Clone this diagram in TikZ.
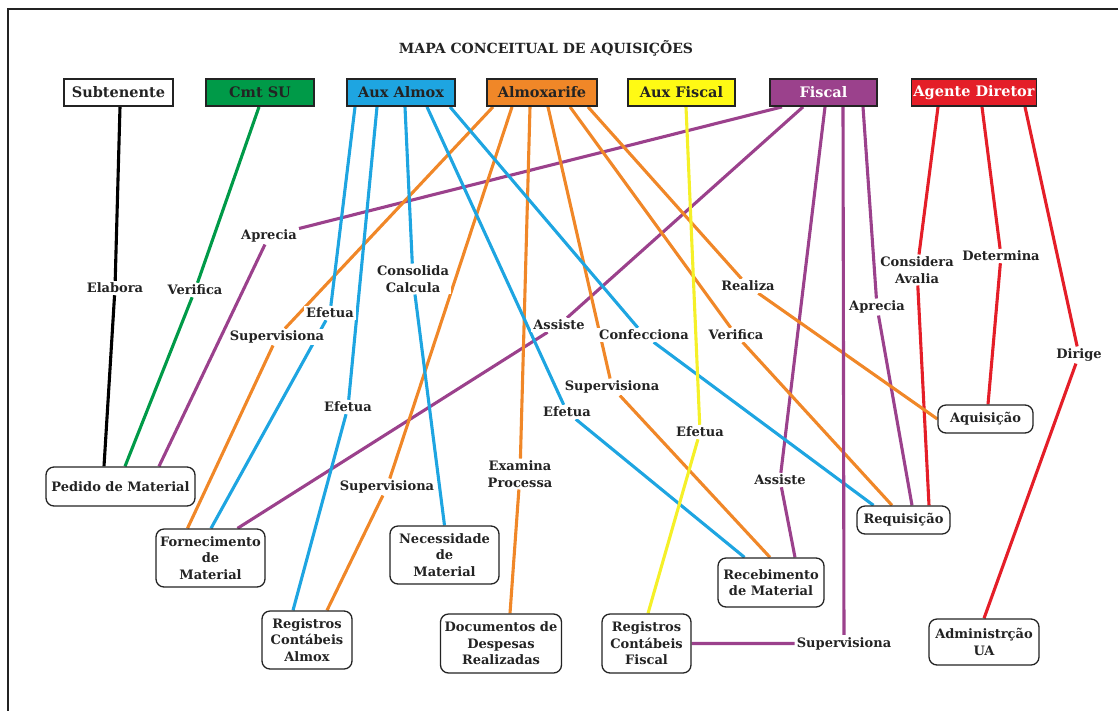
\documentclass[tikz,border=0pt]{standalone}
\usepackage{fontspec}
\setmainfont{DejaVu Serif}
\usetikzlibrary{calc,backgrounds}
\definecolor{cgreen}{RGB}{0,154,72}
\definecolor{ccyan}{RGB}{30,165,225}
\definecolor{corange}{RGB}{240,135,40}
\definecolor{cyellowbox}{RGB}{255,250,20}
\definecolor{cyellow}{RGB}{245,240,40}
\definecolor{cpurple}{RGB}{155,65,140}
\definecolor{cred}{RGB}{228,30,40}
\definecolor{ctext}{RGB}{35,35,35}
\begin{document}
\begin{tikzpicture}[x=1pt,y=-1pt,
  topbox/.style={draw=ctext, line width=1.8pt, minimum height=27pt, inner sep=2pt, font=\fontsize{14.5}{17}\selectfont\bfseries, text=ctext},
  box/.style={draw=ctext, line width=1.3pt, rounded corners=8pt, fill=white, inner xsep=3pt, inner ysep=3pt, align=center, font=\fontsize{13}{16.5}\selectfont\bfseries, text=ctext},
  lbl/.style={inner sep=2pt, fill=white, align=center, font=\fontsize{13}{16.5}\selectfont\bfseries, text=ctext},
  con/.style={line width=3.1pt},
]
\useasboundingbox (0,0) rectangle (1118,710);
\draw[line width=2.6pt, ctext] (8,712) -- (8,9) -- (1120,9);

\node[font=\fontsize{14}{16}\selectfont\bfseries, text=ctext] (title) at (546,48) {MAPA CONCEITUAL DE AQUISIÇÕES};

% top row
\node[topbox, fill=white, minimum width=109pt] (sub) at (118.5,92.5) {Subtenente};
\node[topbox, fill=cgreen, minimum width=108pt] (cmt) at (260,92.5) {Cmt SU};
\node[topbox, fill=ccyan, minimum width=108pt] (aux) at (401,92.5) {Aux Almox};
\node[topbox, fill=corange, minimum width=110pt] (alm) at (542,92.5) {Almoxarife};
\node[topbox, fill=cyellowbox, minimum width=107pt] (auxf) at (681.5,92.5) {Aux Fiscal};
\node[topbox, fill=cpurple, text=white, minimum width=107pt] (fis) at (823.5,92.5) {Fiscal};
\node[topbox, fill=cred, text=white, minimum width=120pt] (age) at (974,92.5) {Agente Diretor};

% concept boxes
\node[box, minimum width=149pt, minimum height=39pt] (ped) at (120.5,486.5) {Pedido de Material};
\node[box, minimum width=109pt, minimum height=58pt] (forn) at (210.5,558) {Fornecimento\\de\\Material};
\node[box, minimum width=109pt, minimum height=58pt] (nec) at (444.5,555) {Necessidade\\de\\Material};
\node[box, minimum width=90pt, minimum height=58pt] (rega) at (307,640) {Registros\\Contábeis\\Almox};
\node[box, minimum width=121pt, minimum height=59pt] (doc) at (501,643.5) {Documentos de\\Despesas\\Realizadas};
\node[box, minimum width=89pt, minimum height=59pt] (regf) at (646.5,643.5) {Registros\\Contábeis\\Fiscal};
\node[box, minimum width=106pt, minimum height=49pt] (rec) at (771,582.5) {Recebimento\\de Material};
\node[box, minimum width=93pt, minimum height=28pt] (req) at (903.5,520) {Requisição};
\node[box, minimum width=95pt, minimum height=28pt] (aq) at (985.5,419) {Aquisição};
\node[box, minimum width=110pt, minimum height=46pt] (adm) at (984,642) {Administrção\\UA};

% labels
\node[lbl] (l1) at (115,288) {Elabora};
\node[lbl] (l2) at (195,290) {Verifica};
\node[lbl] (l3) at (269,236) {Aprecia};
\node[lbl] (l4) at (277,337) {Supervisiona};
\node[lbl] (l5) at (330,313) {Efetua};
\node[lbl] (l6) at (413,279) {Consolida\\Calcula};
\node[lbl] (l7) at (348,407) {Efetua};
\node[lbl] (l8) at (387,487) {Supervisiona};
\node[lbl] (l9) at (520,474) {Examina\\Processa};
\node[lbl] (l10) at (559,325) {Assiste};
\node[lbl] (l11) at (567,412) {Efetua};
\node[lbl] (l12) at (644,335) {Confecciona};
\node[lbl] (l13) at (612,387) {Supervisiona};
\node[lbl] (l14) at (700,432) {Efetua};
\node[lbl] (l15) at (736,335) {Verifica};
\node[lbl] (l16) at (748,286) {Realiza};
\node[lbl] (l17) at (780,480) {Assiste};
\node[lbl] (l18) at (877,307) {Aprecia};
\node[lbl] (l19) at (917,270) {Considera\\Avalia};
\node[lbl] (l20) at (1001,256) {Determina};
\node[lbl] (l21) at (1079,355) {Dirige};
\node[lbl] (l22) at (844,643.5) {Supervisiona};

\begin{pgfonlayer}{background}
\draw[con, black] ([xshift=1.5pt]sub.south) -- (l1) -- ([xshift=-16.5pt]ped.north);
\draw[con, cgreen] ([xshift=-1pt]cmt.south) -- (l2) -- ([xshift=4.5pt]ped.north);
\draw[con, cpurple] ([xshift=-41.5pt]fis.south) -- (l3) -- ([xshift=38.5pt]ped.north);
\draw[con, corange] ([xshift=-49pt]alm.south) -- (l4) -- ([xshift=-23pt]forn.north);
\draw[con, ccyan] ([xshift=-46pt]aux.south) -- (l5) -- ([xshift=0.5pt]forn.north);
\draw[con, cpurple] ([xshift=-20.5pt]fis.south) -- (l10) -- ([xshift=27pt]forn.north);
\draw[con, ccyan] ([xshift=-24pt]aux.south) -- (l7) -- ([xshift=-14pt]rega.north);
\draw[con, corange] ([xshift=-30pt]alm.south) -- (l8) -- ([xshift=20pt]rega.north);
\draw[con, ccyan] ([xshift=4pt]aux.south) -- (l6) -- (nec.north);
\draw[con, corange] ([xshift=-12pt]alm.south) -- (l9) -- ([xshift=9pt]doc.north);
\draw[con, ccyan] ([xshift=26pt]aux.south) -- (l11) -- ([xshift=-26.5pt]rec.north);
\draw[con, corange] ([xshift=6pt]alm.south) -- (l13) -- ([xshift=-1pt]rec.north);
\draw[con, cpurple] ([xshift=1.5pt]fis.south) -- (l17) -- ([xshift=24pt]rec.north);
\draw[con, ccyan] ([xshift=49pt]aux.south) -- (l12) -- ([xshift=-30pt]req.north);
\draw[con, corange] ([xshift=28pt]alm.south) -- (l15) -- ([xshift=-11.5pt]req.north);
\draw[con, cpurple] ([xshift=39.5pt]fis.south) -- (l18) -- ([xshift=8.5pt]req.north);
\draw[con, cred] ([xshift=-36pt]age.south) -- (l19) -- ([xshift=25.5pt]req.north);
\draw[con, corange] ([xshift=46pt]alm.south) -- (l16) -- (aq.west);
\draw[con, cred] ([xshift=8pt]age.south) -- (l20) -- ([xshift=2.5pt]aq.north);
\draw[con, cred] ([xshift=51pt]age.south) -- (l21) -- (adm.north);
\draw[con, cyellow] ([xshift=4.5pt]auxf.south) -- (l14) -- ([xshift=1.5pt]regf.north);
\draw[con, cpurple] ([xshift=19.5pt]fis.south) -- (l22) -- (regf);
\end{pgfonlayer}
\end{tikzpicture}
\end{document}
